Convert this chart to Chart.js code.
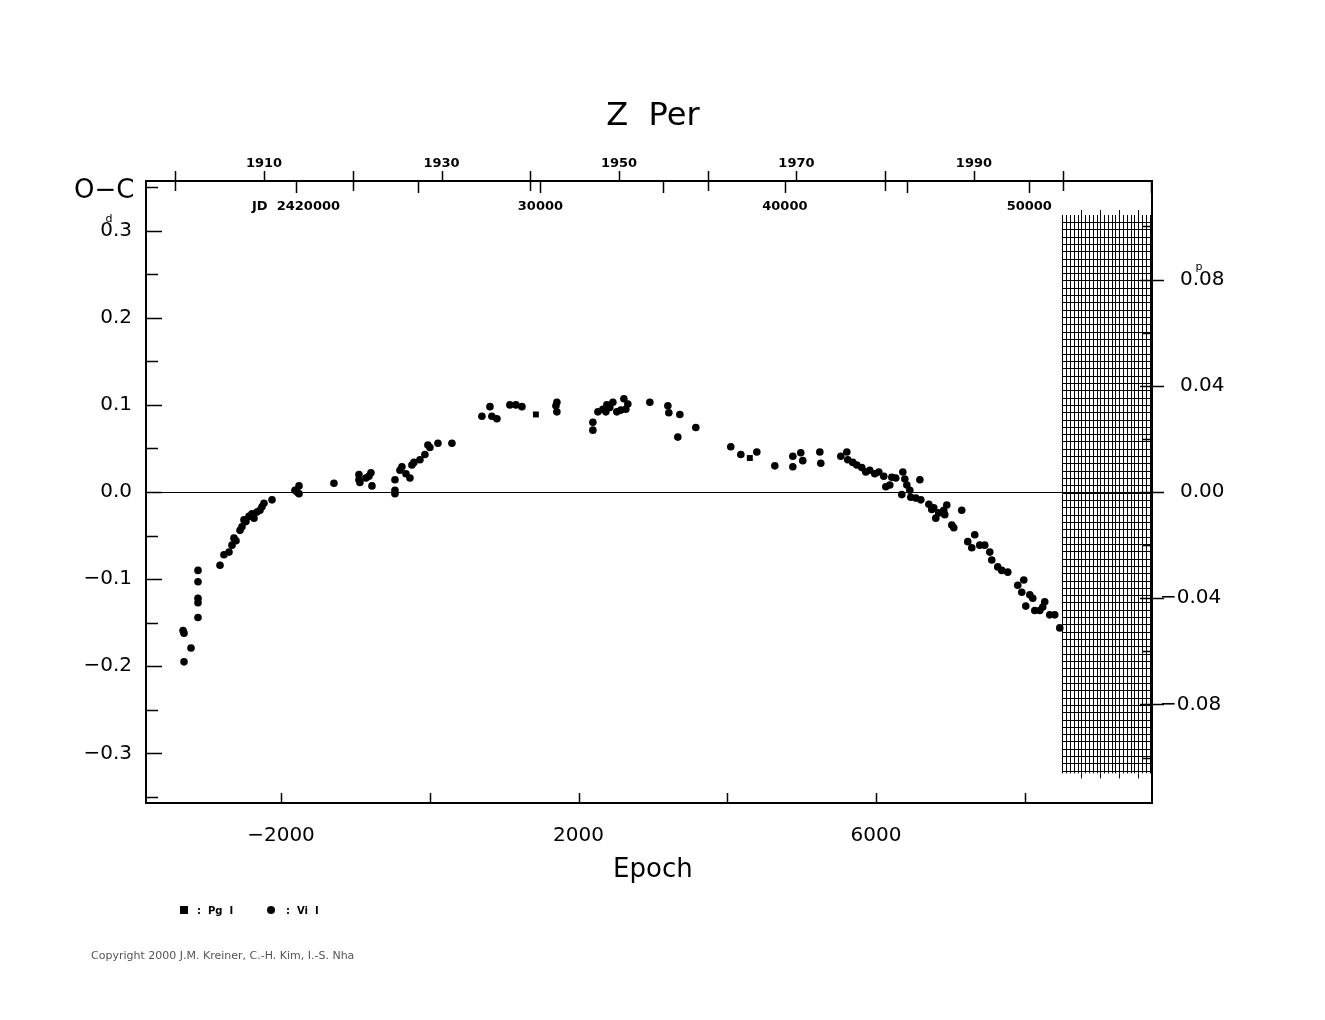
<!DOCTYPE html>
<html><head><meta charset="utf-8">
<script src="https://cdn.jsdelivr.net/npm/chart.js@4/dist/chart.umd.min.js"></script>
<style>html,body{margin:0;padding:0;background:#fff}#w{width:1325px;height:1020px}</style>
</head><body><div id="w"><canvas id="c"></canvas></div>
<script>
const viEpoch=[-3317,-3304,-3304,-3210,-3116,-3116,-3116,-3116,-3116,-2820,-2767,-2699,-2659,-2632,-2605,-2551,-2525,-2498,-2471,-2431,-2390,-2363,-2323,-2283,-2256,-2229,-2121,-1812,-1785,-1758,-1758,-1288,-952,-952,-939,-858,-818,-791,-777,-468,-468,-468,-401,-374,-320,-266,-240,-213,-132,-65,-25,2,110,298,701,809,835,903,1077,1158,1239,1696,1709,1709,2193,2193,2260,2327,2368,2381,2421,2462,2515,2569,2610,2636,2663,2959,3201,3214,3335,3362,3577,4047,4182,4397,4639,4881,4881,4988,5015,5244,5257,5526,5607,5620,5687,5741,5808,5862,5916,5983,6037,6104,6131,6185,6212,6265,6346,6360,6387,6414,6454,6467,6535,6589,6602,6710,6749,6776,6803,6843,6910,6924,6951,7018,7045,7152,7233,7287,7327,7394,7461,7529,7556,7636,7690,7771,7905,7959,7986,8013,8067,8107,8134,8201,8241,8268,8335,8403,8470];
const viOC=[-0.159,-0.162,-0.195,-0.179,-0.090,-0.103,-0.122,-0.127,-0.144,-0.084,-0.072,-0.069,-0.061,-0.053,-0.056,-0.044,-0.040,-0.032,-0.034,-0.028,-0.025,-0.030,-0.023,-0.021,-0.017,-0.013,-0.009,0.002,0.000,-0.002,0.007,0.010,0.020,0.014,0.011,0.016,0.018,0.022,0.007,0.002,-0.002,0.014,0.025,0.029,0.021,0.016,0.031,0.034,0.037,0.043,0.054,0.051,0.056,0.056,0.087,0.098,0.087,0.084,0.100,0.100,0.098,0.099,0.103,0.092,0.071,0.080,0.092,0.095,0.092,0.100,0.097,0.103,0.092,0.094,0.107,0.095,0.101,0.103,0.099,0.091,0.063,0.089,0.074,0.052,0.043,0.046,0.030,0.029,0.041,0.045,0.036,0.046,0.033,0.041,0.046,0.037,0.034,0.031,0.028,0.023,0.025,0.021,0.023,0.018,0.006,0.008,0.017,0.016,-0.003,0.023,0.015,0.008,0.002,-0.006,-0.007,0.014,-0.009,-0.014,-0.020,-0.018,-0.030,-0.024,-0.021,-0.026,-0.015,-0.038,-0.041,-0.021,-0.057,-0.064,-0.049,-0.061,-0.061,-0.069,-0.078,-0.086,-0.090,-0.092,-0.107,-0.115,-0.101,-0.131,-0.118,-0.122,-0.136,-0.136,-0.132,-0.126,-0.141,-0.141,-0.156];
const pgEpoch=[1427,4303];
const pgOC=[0.089,0.039];
const leftTicks=[-0.3,-0.2,-0.1,0.0,0.1,0.2,0.3];
const rightTicks=[-0.08,-0.04,0.00,0.04,0.08];
const bottomTicks=[-2000,2000,6000];
const yearTicks=[1910,1930,1950,1970,1990];
const jdTicks=[20000,30000,40000,50000];
const X0=-3815,X1=9710,Y0=-0.357,Y1=0.357;
const PHASE=0.328;
const HATCH0=8505;
const yearToEpoch=y=>-2228+(y-1910)*119.3;
const jdToEpoch=j=>-1798+(j-20000)*0.3286;
const F='"DejaVu Sans", sans-serif';
const deco={id:'deco',afterDatasetsDraw(ch){
 const c=ch.ctx,xs=ch.scales.x,ys=ch.scales.y,a=ch.chartArea;
 const X=v=>xs.getPixelForValue(v),Y=v=>ys.getPixelForValue(v);
 c.save();c.strokeStyle='#000';c.fillStyle='#000';c.lineWidth=1;
 c.beginPath();c.moveTo(a.left,Y(0)+.5);c.lineTo(a.right,Y(0)+.5);c.stroke();
 c.beginPath();
 for(let e=HATCH0;e<=9700;e+=51){const x=Math.round(X(e))+.5;c.moveTo(x,Y(0.318));c.lineTo(x,Y(-0.323));}
 for(let i=0;i*0.0084<=0.63;i++){const y=Math.round(Y(0.31-i*0.0084))+.5;c.moveTo(X(HATCH0),y);c.lineTo(a.right,y);}
 for(let e=HATCH0+255;e<=9700;e+=255){const x=Math.round(X(e))+.5;c.moveTo(x,Y(0.318)-5);c.lineTo(x,Y(0.318));c.moveTo(x,Y(-0.323));c.lineTo(x,Y(-0.323)+5);}
 c.stroke();
 c.lineWidth=2;c.strokeRect(a.left,a.top,a.right-a.left,a.bottom-a.top);
 c.lineWidth=1.5;c.beginPath();
 for(let v=-0.35;v<=0.351;v+=0.05){const y=Math.round(Y(v))+.5;const L=Math.abs(Math.round(v*20))%2===0?16:12;c.moveTo(a.left,y);c.lineTo(a.left+L,y);}
 for(let v=-0.1;v<=0.101;v+=0.02){const y=Math.round(Y(v/PHASE))+.5;const maj=Math.abs(Math.round(v*50))%2===0;c.moveTo(a.right-(maj?12:10),y);c.lineTo(a.right+(maj?12:0),y);}
 for(let e=-2000;e<=8000;e+=2000){const x=Math.round(X(e))+.5;c.moveTo(x,a.bottom);c.lineTo(x,a.bottom-10);}
 for(let yr=1900;yr<=2000;yr+=10){const x=Math.round(X(yearToEpoch(yr)))+.5;c.moveTo(x,a.top-10);c.lineTo(x,a.top+(yr%20===10?0:10));}
 for(let j=20000;j<=55000;j+=5000){const x=Math.round(X(jdToEpoch(j)))+.5;if(x>a.right)continue;c.moveTo(x,a.top);c.lineTo(x,a.top+12);}
 c.stroke();
 c.font='20px '+F;c.textAlign='right';c.textBaseline='middle';
 leftTicks.forEach(v=>{c.fillText((v<0?'\u2212':'')+Math.abs(v).toFixed(1),a.left-14,Y(v));});
 c.font='11px '+F;c.textAlign='center';c.fillText('d',a.left-37,Y(0.3)-12);
 c.font='20px '+F;c.textAlign='left';
 rightTicks.forEach(v=>{c.fillText((v<0?'\u2212':'')+Math.abs(v).toFixed(2),a.right+(v<0?8:28),Y(v/PHASE));});
 c.font='11px '+F;c.textAlign='center';c.fillText('p',a.right+47,Y(0.08/PHASE)-12);
 c.font='20px '+F;c.textAlign='center';c.textBaseline='top';
 bottomTicks.forEach(v=>c.fillText((v<0?'\u2212':'')+Math.abs(v),X(v),a.bottom+23));
 c.font='26px '+F;c.fillText('Epoch',X(3000),a.bottom+54);
 c.font='32px '+F;c.textBaseline='alphabetic';c.fillText('Z  Per',X(3000),a.top-56);
 c.font='bold 13px '+F;
 yearTicks.forEach(v=>c.fillText(String(v),X(yearToEpoch(v)),a.top-14));
 jdTicks.forEach(v=>c.fillText(v===20000?'JD  2420000':String(v),X(jdToEpoch(v)),a.top+29));
 c.font='26px '+F;c.textAlign='left';c.fillText('O\u2212C',74,a.top+17);
 c.fillRect(180,906,8,8);c.beginPath();c.arc(271,910,4,0,7);c.fill();
 c.font='bold 10px '+F;c.textBaseline='middle';c.fillText(':  Pg  I',197,911);c.fillText(':  Vi  I',286,911);
 c.font='11px '+F;c.fillStyle='#555';c.fillText('Copyright 2000 J.M. Kreiner, C.-H. Kim, I.-S. Nha',91,956);
 c.restore();}};
new Chart(document.getElementById('c'),{type:'scatter',
 data:{datasets:[
  {label:'Vi I',data:viEpoch.map((e,i)=>({x:e,y:viOC[i]})),pointStyle:'circle',pointRadius:3.8,backgroundColor:'#000',borderColor:'#000',borderWidth:0},
  {label:'Pg I',data:pgEpoch.map((e,i)=>({x:e,y:pgOC[i]})),pointStyle:'rect',pointRadius:4.2,backgroundColor:'#000',borderColor:'#000',borderWidth:0}]},
 options:{responsive:true,maintainAspectRatio:false,animation:false,
  layout:{padding:{left:146,right:173,top:181,bottom:217}},
  plugins:{legend:{display:false},tooltip:{enabled:false}},
  scales:{x:{type:'linear',min:X0,max:X1,display:false},y:{type:'linear',min:Y0,max:Y1,display:false}}},
 plugins:[deco]});
</script></body></html>
